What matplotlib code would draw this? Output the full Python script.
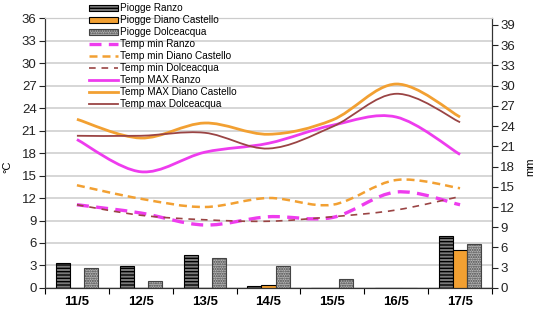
import matplotlib
matplotlib.use('Agg')
import matplotlib.pyplot as plt
import numpy as np
from matplotlib.path import Path
from matplotlib.patches import PathPatch
from matplotlib.lines import Line2D

plt.rcParams['font.family'] = ['Liberation Sans', 'DejaVu Sans']
plt.rcParams['hatch.linewidth'] = 1.0

days = ['11/5', '12/5', '13/5', '14/5', '15/5', '16/5', '17/5']

# pioggia (mm)
rain_ranzo = [3.7, 3.3, 4.9, 0.3, 0.0, 0.0, 7.7]
rain_diano = [0.0, 0.0, 0.0, 0.5, 0.0, 0.0, 5.6]
rain_dolce = [3.0, 1.1, 4.5, 3.3, 1.4, 0.0, 6.5]

# temperature (C)
tmin_ranzo = [11.1, 10.0, 8.4, 9.5, 9.4, 12.8, 11.1]
tmin_diano = [13.7, 11.9, 10.8, 12.0, 11.1, 14.4, 13.3]
tmin_dolce = [11.1, 9.7, 9.1, 8.9, 9.5, 10.4, 12.2]
tmax_ranzo = [19.8, 15.5, 18.1, 19.3, 21.7, 22.8, 17.8]
tmax_diano = [22.5, 20.0, 22.0, 20.5, 22.4, 27.2, 22.8]
tmax_dolce = [20.3, 20.3, 20.7, 18.6, 21.5, 25.9, 22.1]

magenta = '#ee3cee'
orange = '#f2a032'
brown = '#9a4444'


def smooth_path(x, y):
    # bezier like excel "smoothed line"
    p = np.column_stack([x, y]).astype(float)
    n = len(p)
    verts = [p[0]]
    codes = [Path.MOVETO]
    for i in range(n - 1):
        p0 = p[i - 1] if i > 0 else p[i]
        p3 = p[i + 2] if i + 2 < n else p[i + 1]
        c1 = p[i] + (p[i + 1] - p0) / 6.0
        c2 = p[i + 1] - (p3 - p[i]) / 6.0
        verts += [c1, c2, p[i + 1]]
        codes += [Path.CURVE4] * 3
    return Path(verts, codes)


fig = plt.figure(figsize=(5.35, 3.09), dpi=100)
ax = fig.add_axes([0.0841, 0.068, 0.8355, 0.8736])
ax2 = ax.twinx()

x = np.arange(len(days))

lines = [
    (tmin_ranzo, magenta, 2.4, (0, (3.6, 2.2)), 'Temp min Ranzo'),
    (tmin_diano, orange, 1.8, (0, (3.2, 2.0)), 'Temp min Diano Castello'),
    (tmin_dolce, brown, 1.2, (0, (4.0, 3.5)), 'Temp min Dolceacqua'),
    (tmax_ranzo, magenta, 2.0, '-', 'Temp MAX Ranzo'),
    (tmax_diano, orange, 2.0, '-', 'Temp MAX Diano Castello'),
    (tmax_dolce, brown, 1.3, '-', 'Temp max Dolceacqua'),
]
line_handles = []
for vals, col, lw, ls, lab in lines:
    patch = PathPatch(smooth_path(x, vals), facecolor='none', edgecolor=col,
                      linewidth=lw, linestyle=ls, capstyle='butt', zorder=3)
    ax.add_patch(patch)
    line_handles.append(Line2D([], [], color=col, lw=lw, ls=ls, label=lab))

w = 0.22
b1 = ax2.bar(x - w, rain_ranzo, w, color='#7a7a7a', edgecolor='black',
             hatch='-----', linewidth=0.8, label='Piogge Ranzo')
b2 = ax2.bar(x, rain_diano, w, color=orange, edgecolor='black',
             linewidth=0.8, label='Piogge Diano Castello')
b3 = ax2.bar(x + w, rain_dolce, w, color='#b8b8b8', edgecolor='#444444',
             hatch='.......', linewidth=0.8, label='Piogge Dolceacqua')

ax.set_xlim(-0.5, 6.5)
ax.set_ylim(0, 36)
ax.set_yticks(np.arange(0, 37, 3))
ax2.set_ylim(0, 40)
ax2.set_yticks(np.arange(0, 40, 3))

ax.grid(axis='y', color='#cccccc', lw=1.1)
ax.set_axisbelow(True)

ax.set_xticks(np.arange(-0.5, 7, 1))
ax.set_xticklabels([])
ax.set_xticks(x, minor=True)
ax.set_xticklabels(days, minor=True, fontweight='bold', fontsize=9.5)
ax.tick_params(axis='x', which='major', length=4, direction='out', color='black')
ax.tick_params(axis='x', which='minor', length=0, pad=6)
ax.tick_params(axis='y', length=4, labelsize=9.5, pad=2, colors='#222222')
ax2.tick_params(axis='y', length=4, labelsize=9.5, pad=2, colors='#222222')

for a in (ax, ax2):
    a.spines['top'].set_color('#cccccc')
    a.spines['left'].set_color('#333333')
    a.spines['right'].set_color('#333333')
    a.spines['bottom'].set_color('#333333')

ax.set_ylabel('°C', fontsize=8)
ax.yaxis.set_label_coords(-0.074, 0.45)
ax2.set_ylabel('mm', fontsize=8)
ax2.yaxis.set_label_coords(1.074, 0.45)

handles = [b1, b2, b3] + line_handles
leg = ax2.legend(handles=handles, loc='upper left',
                 bbox_to_anchor=(0.096, 1.058), frameon=False, fontsize=7.2,
                 handlelength=2.9, handleheight=0.55, handletextpad=0.2,
                 labelspacing=0.2, borderpad=0.1, borderaxespad=0)
leg.set_zorder(10)

fig.savefig('out.png', dpi=100)
